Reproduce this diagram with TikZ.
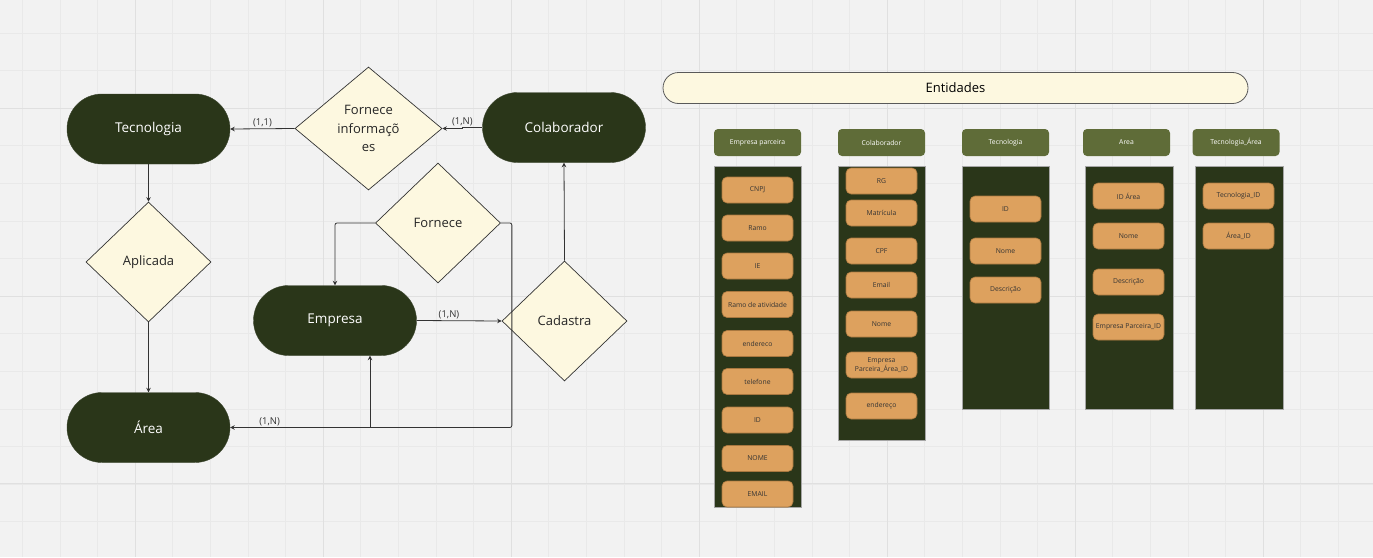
\documentclass[tikz,border=0pt]{standalone}
\usepackage{fontspec}
\setmainfont{Open Sans}
\usetikzlibrary{shapes.geometric,arrows.meta}

\definecolor{fundo}{HTML}{F2F2F2}
\definecolor{gradefina}{HTML}{E9E9E9}
\definecolor{gradeforte}{HTML}{E0E0E0}
\definecolor{escuro}{HTML}{2A3619}
\definecolor{creme}{HTML}{FDF8E0}
\definecolor{oliva}{HTML}{5F6C38}
\definecolor{laranja}{HTML}{DDA15E}
\definecolor{laranjaborda}{HTML}{A8773F}
\definecolor{linha}{HTML}{333333}

\tikzset{
  entidade/.style={rectangle, rounded corners=35pt, fill=escuro, draw=escuro!80!gray,
    minimum width=163pt, minimum height=70pt, text=white,
    font=\fontsize{13.5}{16}\selectfont},
  relacao/.style={diamond, draw=linha, fill=creme, line width=0.7pt, inner sep=0pt,
    minimum width=125pt, minimum height=120pt, align=center, text=black!85,
    font=\fontsize{13}{18.5}\selectfont},
  conexao/.style={draw=linha, line width=0.8pt, -{Stealth[length=4.5pt,width=4.5pt]}},
  card/.style={font=\fontsize{9.5}{11}\selectfont, text=black!80, inner sep=1.5pt},
  titulo/.style={rectangle, rounded corners=15.5pt, fill=creme, draw=black!65, line width=0.8pt,
    minimum width=585pt, minimum height=31pt, font=\fontsize{13}{15}\selectfont},
  cabec/.style={rectangle, rounded corners=4pt, fill=oliva, minimum width=87pt,
    minimum height=27pt, text=white, font=\fontsize{6.8}{8}\selectfont},
  corpo/.style={rectangle, fill=escuro, draw=gray!70, line width=0.6pt, minimum width=87pt},
  atrib/.style={rectangle, rounded corners=5pt, fill=laranja, draw=laranjaborda, line width=0.6pt,
    minimum width=71pt, minimum height=26pt, inner sep=1pt, align=center,
    text=black!80, font=\fontsize{6.8}{9}\selectfont},
}

\begin{document}
\begin{tikzpicture}[x=1pt,y=-1pt] % diagrama ER e entidades
  \useasboundingbox (0,0) rectangle (1373,557);
  \fill[fundo] (0,0) rectangle (1373,557);
  \foreach \x in {0,...,35} \draw[gradefina] ({22.2+37.6*\x},0) -- ({22.2+37.6*\x},557);
  \foreach \y in {0,...,14} \draw[gradefina] (0,{32.8+37.6*\y}) -- (1373,{32.8+37.6*\y});
  \foreach \x in {135,323,...,1263} \draw[gradeforte] (\x,0) -- (\x,557);
  \foreach \y in {108,296,483} \draw[gradeforte] (0,\y) -- (1373,\y);

  \node[entidade] (tec)   at (148.5,129)   {Tecnologia};
  \node[entidade] (colab) at (564,127.5)   {Colaborador};
  \node[entidade] (emp)   at (335,320.5)   {Empresa};
  \node[entidade] (area)  at (148.5,427.5) {Área};

  \node[relacao, minimum width=147pt, minimum height=123pt] (forninf) at (368.5,128.5)
    {Fornece\\informaçõ\\es};
  \node[relacao] (apl)  at (148.5,262) {Aplicada};
  \node[relacao] (forn) at (438,223)   {Fornece};
  \node[relacao] (cad)  at (564.5,321) {Cadastra};

  \draw[conexao] (forninf.west) -- (tec.east) node[midway,above,card] {(1,1)};
  \draw[conexao] (colab.west) -- ++(-20,0) node[above,card] {(1,N)} |- (forninf.east);
  \draw[conexao] (tec.south) -- (apl.north);
  \draw[conexao] (apl.south) -- (area.north);
  \draw[conexao, rounded corners=2pt] (forn.west) -| (emp.north);
  \draw[conexao, rounded corners=2pt] (forn.east) -- ++(11,0) |- (area.east)
    node[pos=0.93,above,card] {(1,N)};
  \coordinate (juncao) at (370,427.5);
  \draw[conexao] (juncao) -- (juncao |- emp.south);
  \draw[conexao] (emp.east) -- (cad.west) node[pos=0.38,above,card] {(1,N)};
  \draw[conexao] (cad.north) -- (colab.south);

  \node[titulo] (ent) at (955.5,88) {Entidades};

  \node[cabec] (cabemp)   at (757.5,142.5)  {Empresa parceira};
  \node[cabec] (cabcolab) at (881.5,142.5)  {Colaborador};
  \node[cabec] (cabtec)   at (1005.5,142.5) {Tecnologia};
  \node[cabec] (cabarea)  at (1126.5,142.5) {Area};
  \node[cabec] (cabta)    at (1236,142.5)   {Tecnologia\_Área};

  \node[corpo, minimum height=341pt] (corpoemp)   at (757.5,336.5) {};
  \node[corpo, minimum height=274pt] (corpocolab) at (881.5,303)   {};
  \node[corpo, minimum height=243pt] (corpotec)   at (1005.5,287.5) {};
  \node[corpo, minimum height=243pt, minimum width=88pt] (corpoarea) at (1129,287.5) {};
  \node[corpo, minimum height=243pt, minimum width=88pt] (corpota)   at (1239,287.5) {};

  \foreach \y/\t [count=\i] in {190/CNPJ, 228/Ramo, 266/IE, 304.5/Ramo de atividade,
      343.5/endereco, 381.5/telefone, 420/ID, 458.5/NOME, 494/EMAIL}
    \node[atrib] (emp\i) at (757.5,\y) {\t};
  \foreach \y/\t [count=\i] in {181/RG, 213/Matrícula, 251/CPF, 285/Email, 324/Nome,
      365/{Empresa\\Parceira\_Área\_ID}, 406/endereço}
    \node[atrib] (colab\i) at (881.5,\y) {\t};
  \foreach \y/\t [count=\i] in {209/ID, 251/Nome, 290/Descrição}
    \node[atrib] (tec\i) at (1005.5,\y) {\t};
  \foreach \y/\t [count=\i] in {196/ID Área, 236/Nome, 282/Descrição, 327/Empresa Parceira\_ID}
    \node[atrib] (area\i) at (1128.5,\y) {\t};
  \foreach \y/\t [count=\i] in {196/Tecnologia\_ID, 236/Área\_ID}
    \node[atrib] (ta\i) at (1238.5,\y) {\t};
\end{tikzpicture}
\end{document}
